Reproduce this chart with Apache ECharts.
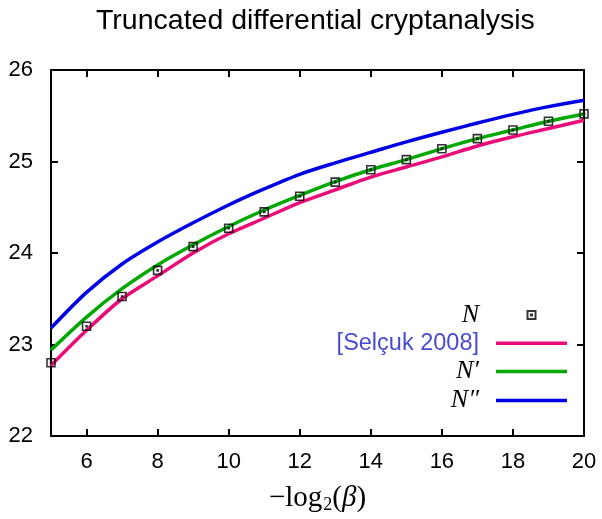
<!DOCTYPE html>
<html>
<head>
<meta charset="utf-8">
<title>Truncated differential cryptanalysis</title>
<script src="https://cdn.jsdelivr.net/npm/echarts@6/dist/echarts.min.js"></script>
<style>
  html, body { margin: 0; padding: 0; background: #ffffff; }
  #chart { width: 602px; height: 519px; }
</style>
</head>
<body>
<div id="chart"></div>
<script>
// -log2(beta) values
const beta = [5, 6, 7, 8, 9, 10, 11, 12, 13, 14, 15, 16, 17, 18, 19, 20];
// Data complexity (log2) per method
const nPoints  = [22.80, 23.20, 23.525, 23.81, 24.07, 24.27, 24.45, 24.62, 24.775, 24.91, 25.02, 25.14, 25.25, 25.345, 25.44, 25.52];
const selcuk   = [22.77, 23.155, 23.50, 23.75, 24.00, 24.21, 24.38, 24.55, 24.69, 24.83, 24.94, 25.05, 25.17, 25.27, 25.36, 25.45];
const nPrime   = [22.94, 23.30, 23.61, 23.87, 24.09, 24.29, 24.47, 24.63, 24.78, 24.91, 25.02, 25.14, 25.25, 25.345, 25.44, 25.52];
const nDouble  = [23.18, 23.57, 23.88, 24.12, 24.33, 24.525, 24.70, 24.86, 24.985, 25.10, 25.215, 25.32, 25.42, 25.515, 25.60, 25.67];
// Axis tick values
const xTicks = [6, 8, 10, 12, 14, 16, 18, 20];
const yTicks = [22, 23, 24, 25, 26];

const names = ['N', '[Selçuk 2008]', 'N\u2032', 'N\u2033'];
const colors = { selcuk: '#ea0b78', prime: '#00a800', dbl: '#0000e6', legendText: '#4a4ad2' };

const pair = (ys) => beta.map((x, i) => [x, ys[i]]);

const sansFont = '"Liberation Sans", Arial, sans-serif';
const mathFont = '"Liberation Serif", "DejaVu Serif", serif';

// Box marker with a centre dot
const boxSymbol = 'path://M0,0h8v8h-8zM3.5,3.5h1v1h-1z';
// Legend icons drawn inside a full 71x14 cell (leading moves fix the cell size)
const boxLegendIcon = 'path://M0,0M71,14M31.5,3h8v8h-8zM35,6.5h1v1h-1z';
const lineLegendIcon = 'path://M0,0M71,14M0,5.25h71v3.5h-71z';

const axisLineStyle = { show: true, lineStyle: { color: '#000', width: 2 } };
const tickStyle = { show: true, inside: true, length: 7, lineStyle: { color: '#000', width: 2 } };

const chart = echarts.init(document.getElementById('chart'), null, { renderer: 'canvas' });

chart.setOption({
  backgroundColor: '#ffffff',
  animation: false,
  title: {
    text: 'Truncated differential cryptanalysis',
    left: 91,
    top: 2,
    textStyle: { fontFamily: sansFont, fontSize: 28.5, fontWeight: 'normal', color: '#000' }
  },
  grid: { left: 51, right: 18, top: 70, bottom: 81, containLabel: false },
  legend: {
    orient: 'vertical',
    align: 'right',
    right: 29,
    top: 297,
    itemWidth: 71,
    itemHeight: 14,
    itemGap: 3.2,
    selectedMode: false,
    textStyle: { fontFamily: mathFont, fontStyle: 'italic', fontSize: 26, color: '#000', padding: [0, 12, 0, 0] },
    data: [
      { name: names[0], icon: boxLegendIcon },
      { name: names[1], icon: lineLegendIcon, textStyle: { fontFamily: sansFont, fontStyle: 'normal', fontSize: 23.5, color: colors.legendText } },
      { name: names[2], icon: lineLegendIcon },
      { name: names[3], icon: lineLegendIcon }
    ]
  },
  xAxis: [
    {
      type: 'value', min: 5, max: 20, position: 'bottom',
      axisLine: axisLineStyle,
      axisTick: Object.assign({ customValues: xTicks }, tickStyle),
      axisLabel: { customValues: xTicks, margin: 15, fontFamily: sansFont, fontSize: 22, color: '#000' },
      splitLine: { show: false },
      name: '{m|\u2212log}{s|2}{m|(}{i|\u03b2}{m|)}',
      nameLocation: 'middle',
      nameGap: 46,
      nameTextStyle: {
        color: '#000',
        rich: {
          m: { fontFamily: mathFont, fontSize: 29, color: '#000' },
          s: { fontFamily: mathFont, fontSize: 18, color: '#000', verticalAlign: 'bottom', padding: [14, 0, 0, 1] },
          i: { fontFamily: mathFont, fontStyle: 'italic', fontSize: 29, color: '#000' }
        }
      }
    },
    {
      type: 'value', min: 5, max: 20, position: 'top',
      axisLine: axisLineStyle,
      axisTick: Object.assign({ customValues: xTicks }, tickStyle),
      axisLabel: { show: false },
      splitLine: { show: false }
    }
  ],
  yAxis: [
    {
      type: 'value', min: 22, max: 26, interval: 1, position: 'left',
      axisLine: axisLineStyle,
      axisTick: tickStyle,
      axisLabel: { margin: 18, fontFamily: sansFont, fontSize: 22, color: '#000' },
      splitLine: { show: false }
    },
    {
      type: 'value', min: 22, max: 26, interval: 1, position: 'right',
      axisLine: axisLineStyle,
      axisTick: tickStyle,
      axisLabel: { show: false },
      splitLine: { show: false }
    }
  ],
  series: [
    {
      name: names[1], type: 'line', data: pair(selcuk), smooth: 0.3,
      symbol: 'none', lineStyle: { color: colors.selcuk, width: 3.5 }, itemStyle: { color: colors.selcuk }, z: 2
    },
    {
      name: names[2], type: 'line', data: pair(nPrime), smooth: 0.3,
      symbol: 'none', lineStyle: { color: colors.prime, width: 3.5 }, itemStyle: { color: colors.prime }, z: 2
    },
    {
      name: names[3], type: 'line', data: pair(nDouble), smooth: 0.3,
      symbol: 'none', lineStyle: { color: colors.dbl, width: 3.5 }, itemStyle: { color: colors.dbl }, z: 2
    },
    {
      name: names[0], type: 'scatter', data: pair(nPoints), clip: false,
      symbol: boxSymbol, symbolSize: 8,
      itemStyle: { color: 'rgba(0,0,0,0)', borderColor: '#000', borderWidth: 1.6 }, z: 3
    }
  ]
});
</script>
</body>
</html>
